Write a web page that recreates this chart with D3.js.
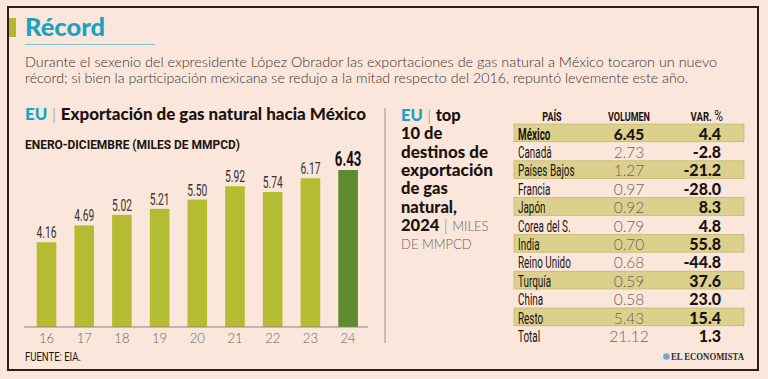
<!DOCTYPE html>
<html><head><meta charset="utf-8">
<script src="https://cdn.jsdelivr.net/npm/d3@7"></script>
<style>
html,body{margin:0;padding:0;background:#fae6da;}
svg{display:block;}
</style></head>
<body>
<svg id="c" width="768" height="379"></svg>
<script>
// ---- data ----
const years = ["16","17","18","19","20","21","22","23","24"];
const exports = [4.16, 4.69, 5.02, 5.21, 5.50, 5.92, 5.74, 6.17, 6.43];
const countries = ["México","Canadá","Países Bajos","Francia","Japón","Corea del S.","India","Reino Unido","Turquía","China","Resto","Total"];
const volumes = ["6.45","2.73","1.27","0.97","0.92","0.79","0.70","0.68","0.59","0.58","5.43","21.12"];
const variations = ["4.4","-2.8","-21.2","-28.0","8.3","4.8","55.8","-44.8","37.6","23.0","15.4","1.3"];
const tableHeaders = ["PAÍS","VOLUMEN","VAR. "];

const svg = d3.select("#c");
const TEAL = "#1ba2c3", BAR = "#b6bc31", BAR_LAST = "#5f8a2f", BAND = "#dbd18d";
const COND = "Roboto,'Liberation Sans',sans-serif";
const BOLD = "Lato,'Open Sans',sans-serif";
const LIGHT = "Lato,'Open Sans',sans-serif";

svg.append("rect").attr("width",768).attr("height",379).attr("fill","#fae6da");
// frame
svg.append("rect").attr("x",8).attr("y",7).attr("width",750).attr("height",363)
  .attr("fill","none").attr("stroke","#2b1e16").attr("stroke-width",2);

// header
svg.append("rect").attr("x",9).attr("y",18).attr("width",7).attr("height",19).attr("fill","#b2b82e");
svg.append("text").attr("x",25).attr("y",36).text("Récord")
  .attr("font-family",BOLD).attr("font-weight",900).attr("font-size",25).attr("fill",TEAL)
  .attr("textLength",80).attr("lengthAdjust","spacingAndGlyphs");
svg.append("line").attr("x1",25).attr("x2",155).attr("y1",44.5).attr("y2",44.5).attr("stroke","#7cc3cf").attr("stroke-width",1);

const desc = [
 {t:"Durante el sexenio del expresidente López Obrador las exportaciones de gas natural a México tocaron un nuevo", w:692, y:66.5},
 {t:"récord; si bien la participación mexicana se redujo a la mitad respecto del 2016, repuntó levemente este año.", w:663, y:83}
];
desc.forEach(d=>{
  svg.append("text").attr("x",25).attr("y",d.y).text(d.t)
   .attr("font-family",LIGHT).attr("font-weight",300).attr("font-size",14.5).attr("fill","#3a3330")
   .attr("textLength",d.w).attr("lengthAdjust","spacingAndGlyphs");
});

// left section title
const t1 = svg.append("text").attr("x",25).attr("y",119.5).attr("font-family",BOLD).attr("font-size",16).attr("font-weight",900)
  .attr("textLength",341).attr("lengthAdjust","spacingAndGlyphs");
t1.append("tspan").text("EU").attr("fill",TEAL);
t1.append("tspan").text(" | ").attr("fill","#888").attr("font-weight",300);
t1.append("tspan").text("Exportación de gas natural hacia México").attr("fill","#1a1410");

svg.append("text").attr("x",25).attr("y",149).text("ENERO-DICIEMBRE (MILES DE MMPCD)")
  .attr("font-family",COND).attr("font-weight",700).attr("font-size",13.5).attr("fill","#1a1410")
  .attr("textLength",215).attr("lengthAdjust","spacingAndGlyphs");

// condensed text helper
function cText(parent, x, y, sx){
  return parent.append("text").attr("transform",`translate(${x},${y}) scale(${sx},1)`);
}

// bar chart
const x = d3.scaleBand().domain(years).range([27.65, 366.95]).paddingInner(0.48).paddingOuter(0.24);
const y = d3.scaleLinear().domain([1.5, 6.43]).range([327, 170]);
const gBars = svg.append("g");
gBars.selectAll("rect").data(exports).join("rect")
  .attr("x",(d,i)=>x(years[i])).attr("width",x.bandwidth())
  .attr("y",d=>y(d)).attr("height",d=>327-y(d))
  .attr("fill",(d,i)=>i===exports.length-1?BAR_LAST:BAR);
exports.forEach((d,i)=>{
  const last = i===exports.length-1;
  cText(gBars, x(years[i])+x.bandwidth()/2, y(d)-4, last?0.68:0.64)
    .attr("text-anchor","middle").text(d.toFixed(2))
    .attr("font-family",COND).attr("font-size",last?19.5:16)
    .attr("font-weight",last?700:400).attr("fill",last?"#111":"#333");
});

const xAxis = svg.append("g").attr("transform","translate(0,327)")
  .call(d3.axisBottom(x).tickSize(0).tickPadding(7));
xAxis.select(".domain").attr("d","M-3,0H341").attr("transform","translate(27,0)").attr("stroke","#8a8580");
xAxis.selectAll("text").attr("font-family",LIGHT).attr("font-weight",300).attr("font-size",13).attr("fill","#666");

svg.append("text").attr("x",25).attr("y",361).text("FUENTE: EIA.")
  .attr("font-family",COND).attr("font-size",12).attr("fill","#1a1410")
  .attr("textLength",56).attr("lengthAdjust","spacingAndGlyphs");

// divider
svg.append("line").attr("x1",385).attr("x2",385).attr("y1",108).attr("y2",343).attr("stroke","#b8b0aa").attr("stroke-width",1.5);

// right title
const rLines = [["EU","top"],["10 de"],["destinos de"],["exportación"],["de gas"],["natural,"],["2024","MILES"],["DE MMPCD"]];
const rW = [null,null,87,92,null,null,null,null];
rLines.forEach((l,i)=>{
  const t = svg.append("text").attr("x",401).attr("y",121+i*18.3).attr("font-family",BOLD).attr("font-weight",900).attr("font-size",16.5).attr("fill","#1a1410");
  if(i===0){
    t.append("tspan").text("EU").attr("fill",TEAL);
    t.append("tspan").text(" | ").attr("fill","#888").attr("font-weight",300);
    t.append("tspan").text("top");
  } else if(i===6){
    t.append("tspan").text("2024");
    t.append("tspan").text(" | ").attr("fill","#888").attr("font-weight",300);
    t.append("tspan").text("MILES").attr("font-weight",300).attr("font-size",13).attr("fill","#666");
  } else if(i===7){
    t.text(l[0]).attr("font-weight",300).attr("font-size",13).attr("fill","#666");
  } else {
    t.text(l[0]);
  }
  if(rW[i]) t.attr("textLength",rW[i]).attr("lengthAdjust","spacingAndGlyphs");
});

// table
const rowY = d3.scaleBand().domain(d3.range(countries.length)).range([124, 124+18.4*countries.length]).padding(0);
const hdr = svg.append("g").attr("font-family",COND).attr("font-weight",700).attr("font-size",12).attr("fill","#1a1410");
cText(hdr,552,121,0.75).attr("text-anchor","middle").text(tableHeaders[0]);
cText(hdr,629,121,0.75).attr("text-anchor","middle").text(tableHeaders[1]);
const vh = cText(hdr,723,121,0.8).attr("text-anchor","end");
vh.append("tspan").text(tableHeaders[2]);
vh.append("tspan").text("%").attr("font-size",15).attr("font-weight",400);

const rows = svg.append("g").selectAll("g").data(countries).join("g")
  .attr("transform",(d,i)=>`translate(0,${rowY(i)})`);
rows.filter((d,i)=>i%2===0 && i<countries.length-1).append("rect")
  .attr("x",514).attr("width",230).attr("height",rowY.bandwidth()-0.6).attr("fill",BAND)
  .attr("stroke","#b9ad62").attr("stroke-width",0.6);
rows.each(function(d,i){
  cText(d3.select(this),518,15.5,0.6).text(d)
    .attr("font-family",COND).attr("font-size",16.5)
    .attr("font-weight",i===0?700:400).attr("fill","#1a1410");
});
rows.append("text").attr("x",629).attr("y",15.5).attr("text-anchor","middle").text((d,i)=>volumes[i])
  .attr("font-family",LIGHT).attr("font-size",15.5)
  .attr("font-weight",(d,i)=>i===0?900:300).attr("fill",(d,i)=>i===0?"#1a1410":"#666");
rows.append("text").attr("x",721).attr("y",15.5).attr("text-anchor","end").text((d,i)=>variations[i])
  .attr("font-family",BOLD).attr("font-size",16).attr("font-weight",900).attr("fill","#1a1410");

// logo
svg.append("circle").attr("cx",666.5).attr("cy",356.5).attr("r",3.3).attr("fill","#6fa8d0");
svg.append("text").attr("x",671).attr("y",360).text("EL ECONOMISTA")
  .attr("font-family","'Liberation Serif','DejaVu Serif',serif").attr("font-weight",700).attr("font-size",10.5).attr("fill","#2a2a2a")
  .attr("textLength",73).attr("lengthAdjust","spacingAndGlyphs");
</script>
</body></html>
